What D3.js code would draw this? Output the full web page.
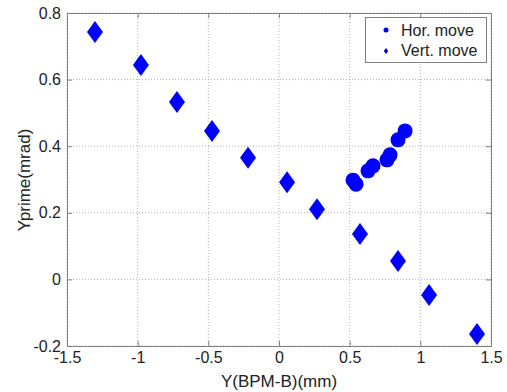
<!DOCTYPE html>
<html><head><meta charset="utf-8">
<script src="https://cdn.jsdelivr.net/npm/d3@7"></script>
<style>body{margin:0;background:#fff;} text{font-family:"Liberation Sans",Arial,sans-serif;}</style>
</head><body>
<svg id="c" width="507" height="392"></svg>
<script>
const horX = [0.524, 0.545, 0.630, 0.665, 0.764, 0.786, 0.842, 0.892];
const horY = [0.298, 0.286, 0.326, 0.341, 0.359, 0.374, 0.419, 0.446];
const vertX = [-1.302, -0.977, -0.722, -0.474, -0.219, 0.057, 0.269, 0.573, 0.842, 1.062, 1.401];
const vertY = [0.743, 0.644, 0.533, 0.446, 0.365, 0.292, 0.211, 0.136, 0.055, -0.047, -0.164];
const xTicks = [-1.5, -1, -0.5, 0, 0.5, 1, 1.5];
const yTicks = [-0.2, 0, 0.2, 0.4, 0.6, 0.8];
const seriesNames = ["Hor. move", "Vert. move"];

const svg = d3.select("#c");
const L = 67, R = 491, T = 13, B = 346;
const x = d3.scaleLinear().domain([-1.5, 1.5]).range([L, R]);
const y = d3.scaleLinear().domain([-0.2, 0.8]).range([B, T]);
const axisCol = "#808080";
const grid = svg.append("g");
xTicks.forEach(t => grid.append("line").attr("x1", x(t)).attr("x2", x(t)).attr("y1", T).attr("y2", B)
  .attr("stroke", "#b0b0b0").attr("stroke-width", 1).attr("stroke-dasharray", "1,2"));
yTicks.forEach(t => grid.append("line").attr("y1", y(t)).attr("y2", y(t)).attr("x1", L).attr("x2", R)
  .attr("stroke", "#b0b0b0").attr("stroke-width", 1).attr("stroke-dasharray", "1,2"));

const fmt = d => String(d);
const xa = svg.append("g").attr("transform", `translate(0,${B})`)
  .call(d3.axisBottom(x).tickValues(xTicks).tickSize(-5).tickPadding(6).tickFormat(fmt));
const xt = svg.append("g").attr("transform", `translate(0,${T})`)
  .call(d3.axisTop(x).tickValues(xTicks).tickSize(-5).tickFormat(""));
const ya = svg.append("g").attr("transform", `translate(${L},0)`)
  .call(d3.axisLeft(y).tickValues(yTicks).tickSize(-5).tickPadding(6).tickFormat(fmt));
const yr = svg.append("g").attr("transform", `translate(${R},0)`)
  .call(d3.axisRight(y).tickValues(yTicks).tickSize(-5).tickFormat(""));
[xa, xt, ya, yr].forEach(g => {
  g.selectAll("path").attr("stroke", axisCol);
  g.selectAll("line").attr("stroke", axisCol);
  g.selectAll("text").attr("font-size", 16).attr("fill", "#222").attr("font-family", "Liberation Sans, Arial, sans-serif");
});

const plot = svg.append("g");
plot.selectAll("circle.h").data(horX.map((v, i) => [v, horY[i]])).enter().append("circle")
  .attr("cx", d => x(d[0])).attr("cy", d => y(d[1])).attr("r", 7.5).attr("fill", "#0000ff");
const dia = (w, h) => `M0,${-h}L${w},0L0,${h}L${-w},0Z`;
plot.selectAll("path.v").data(vertX.map((v, i) => [v, vertY[i]])).enter().append("path")
  .attr("transform", d => `translate(${x(d[0])},${y(d[1])})`).attr("d", dia(8, 11)).attr("fill", "#0000ff");

const lg = svg.append("g");
lg.append("rect").attr("x", 365.5).attr("y", 17.5).attr("width", 121).attr("height", 45)
  .attr("fill", "#fff").attr("stroke", "#808080");
lg.append("circle").attr("cx", 386).attr("cy", 30).attr("r", 2.5).attr("fill", "#0000ff");
lg.append("path").attr("transform", "translate(386,51)").attr("d", dia(2.2, 3)).attr("fill", "#0000ff");
lg.append("text").attr("x", 401).attr("y", 35.5).attr("font-size", 16).attr("fill", "#222").text(seriesNames[0]);
lg.append("text").attr("x", 401).attr("y", 56).attr("font-size", 16).attr("fill", "#222").text(seriesNames[1]);

svg.append("text").attr("x", 279).attr("y", 387).attr("text-anchor", "middle").attr("font-size", 17).attr("fill", "#222").text("Y(BPM-B)(mm)");
svg.append("text").attr("transform", "translate(30,180) rotate(-90)").attr("text-anchor", "middle").attr("font-size", 17).attr("fill", "#222").text("Yprime(mrad)");
</script>
</body></html>
